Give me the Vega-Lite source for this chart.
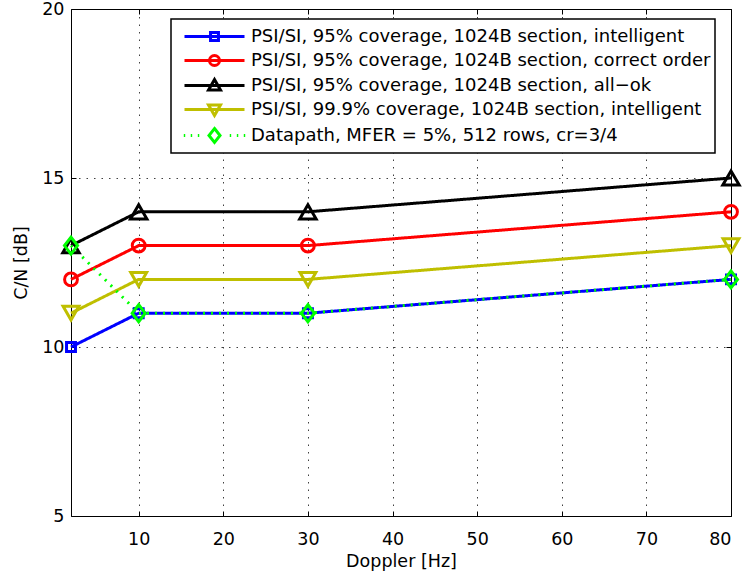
{
  "$schema": "https://vega.github.io/schema/vega-lite/v6.json",
  "width": 660,
  "height": 507,
  "autosize": "none",
  "padding": {"left": 71, "top": 9, "right": 12, "bottom": 59},
  "background": "white",
  "config": {
    "font": "DejaVu Sans",
    "view": {"stroke": "black", "strokeWidth": 1},
    "axis": {
      "labelFont": "DejaVu Sans",
      "titleFont": "DejaVu Sans",
      "labelFontSize": 17.5,
      "titleFontSize": 17.5,
      "titleFontWeight": "normal",
      "labelColor": "black",
      "titleColor": "black",
      "domain": false,
      "tickColor": "black",
      "tickWidth": 1,
      "gridColor": "black",
      "gridOpacity": 0.75,
      "gridDash": [1.5, 6],
      "gridWidth": 1
    }
  },
  "data": {
    "values": [
      {"series": "PSI/SI, 95% coverage, 1024B section, intelligent", "doppler": 2, "cn": 10},
      {"series": "PSI/SI, 95% coverage, 1024B section, intelligent", "doppler": 10, "cn": 11},
      {"series": "PSI/SI, 95% coverage, 1024B section, intelligent", "doppler": 30, "cn": 11},
      {"series": "PSI/SI, 95% coverage, 1024B section, intelligent", "doppler": 80, "cn": 12},
      {"series": "PSI/SI, 95% coverage, 1024B section, correct order", "doppler": 2, "cn": 12},
      {"series": "PSI/SI, 95% coverage, 1024B section, correct order", "doppler": 10, "cn": 13},
      {"series": "PSI/SI, 95% coverage, 1024B section, correct order", "doppler": 30, "cn": 13},
      {"series": "PSI/SI, 95% coverage, 1024B section, correct order", "doppler": 80, "cn": 14},
      {"series": "PSI/SI, 95% coverage, 1024B section, all−ok", "doppler": 2, "cn": 13},
      {"series": "PSI/SI, 95% coverage, 1024B section, all−ok", "doppler": 10, "cn": 14},
      {"series": "PSI/SI, 95% coverage, 1024B section, all−ok", "doppler": 30, "cn": 14},
      {"series": "PSI/SI, 95% coverage, 1024B section, all−ok", "doppler": 80, "cn": 15},
      {"series": "PSI/SI, 99.9% coverage, 1024B section, intelligent", "doppler": 2, "cn": 11},
      {"series": "PSI/SI, 99.9% coverage, 1024B section, intelligent", "doppler": 10, "cn": 12},
      {"series": "PSI/SI, 99.9% coverage, 1024B section, intelligent", "doppler": 30, "cn": 12},
      {"series": "PSI/SI, 99.9% coverage, 1024B section, intelligent", "doppler": 80, "cn": 13},
      {"series": "Datapath, MFER = 5%, 512 rows, cr=3/4", "doppler": 2, "cn": 13},
      {"series": "Datapath, MFER = 5%, 512 rows, cr=3/4", "doppler": 10, "cn": 11},
      {"series": "Datapath, MFER = 5%, 512 rows, cr=3/4", "doppler": 30, "cn": 11},
      {"series": "Datapath, MFER = 5%, 512 rows, cr=3/4", "doppler": 80, "cn": 12}
    ]
  },
  "resolve": {"axis": {"x": "independent", "y": "independent"}},
  "layer": [
    {
      "mark": {"type": "line", "strokeWidth": 3, "clip": false},
      "encoding": {
        "x": {
          "field": "doppler", "type": "quantitative",
          "scale": {"domain": [2, 80], "nice": false, "zero": false},
          "axis": {
            "orient": "bottom", "title": "Doppler [Hz]",
            "values": [10, 20, 30, 40, 50, 60, 70, 80],
            "grid": true, "ticks": true, "tickSize": -5,
            "labelPadding": 19, "titlePadding": 5
          }
        },
        "y": {
          "field": "cn", "type": "quantitative",
          "scale": {"domain": [5, 20], "nice": false, "zero": false},
          "axis": {
            "orient": "left", "title": "C/N [dB]",
            "values": [5, 10, 15, 20],
            "grid": true, "ticks": true, "tickSize": -5,
            "labelPadding": 12, "titlePadding": 11
          }
        },
        "color": {
          "field": "series", "type": "nominal", "title": null,
          "scale": {
            "domain": [
              "PSI/SI, 95% coverage, 1024B section, intelligent",
              "PSI/SI, 95% coverage, 1024B section, correct order",
              "PSI/SI, 95% coverage, 1024B section, all−ok",
              "PSI/SI, 99.9% coverage, 1024B section, intelligent",
              "Datapath, MFER = 5%, 512 rows, cr=3/4"
            ],
            "range": ["#0000ff", "#ff0000", "#000000", "#bfbf00", "#00ff00"]
          },
          "legend": {
            "orient": "none",
            "legendX": 100,
            "legendY": 10,
            "direction": "vertical",
            "labelFont": "DejaVu Sans",
            "labelFontSize": 18,
            "labelColor": "black",
            "labelLimit": 0,
            "strokeColor": "black",
            "fillColor": "white",
            "padding": 4,
            "rowPadding": 0,
            "symbolSize": 576,
            "symbolOffset": 26,
            "labelOffset": 23,
            "encode": {
              "legend": {
                "update": {"strokeWidth": {"value": 1.5}}
              },
              "symbols": {
                "update": {
                  "fill": {"value": "transparent"},
                  "stroke": {"scale": "color", "field": "value"},
                  "strokeWidth": {"value": 3},
                  "opacity": {"value": 1},
                  "size": {"value": 576},
                  "shape": {"signal": "datum.value === 'PSI/SI, 95% coverage, 1024B section, intelligent' ? 'M-2.5,0H2.5M-0.33,-0.33H0.33V0.33H-0.33Z' : datum.value === 'PSI/SI, 95% coverage, 1024B section, correct order' ? 'M-2.5,0H2.5M-0.42,0A0.42,0.42,0,1,1,0.42,0A0.42,0.42,0,1,1,-0.42,0Z' : datum.value === 'PSI/SI, 95% coverage, 1024B section, all−ok' ? 'M-2.5,0H2.5M0,-0.5L0.5,0.375L-0.5,0.375Z' : datum.value === 'PSI/SI, 99.9% coverage, 1024B section, intelligent' ? 'M-2.5,0H2.5M0,0.5L0.5,-0.375L-0.5,-0.375Z' : 'M-2.56,0H-2.44M-1.98,0H-1.86M-1.39,0H-1.27M1.27,0H1.39M1.86,0H1.98M2.44,0H2.56M0,-0.58L0.46,0L0,0.58L-0.46,0Z'"}
                }
              }
            }
          }
        },
        "strokeDash": {
          "field": "series", "type": "nominal",
          "scale": {
            "domain": [
              "Datapath, MFER = 5%, 512 rows, cr=3/4",
              "PSI/SI, 99.9% coverage, 1024B section, intelligent",
              "PSI/SI, 95% coverage, 1024B section, all−ok",
              "PSI/SI, 95% coverage, 1024B section, correct order",
              "PSI/SI, 95% coverage, 1024B section, intelligent"
            ],
            "range": [[2, 6], [1, 0], [1, 0], [1, 0], [1, 0]]
          },
          "legend": null
        }
      }
    },
    {
      "mark": {"type": "point", "filled": false, "strokeWidth": 3, "opacity": 1, "clip": false},
      "encoding": {
        "x": {
          "field": "doppler", "type": "quantitative",
          "axis": {
            "orient": "top", "title": null, "labels": false, "grid": false,
            "values": [10, 20, 30, 40, 50, 60, 70, 80],
            "ticks": true, "tickSize": -5
          }
        },
        "y": {
          "field": "cn", "type": "quantitative",
          "axis": {
            "orient": "right", "title": null, "labels": false, "grid": false,
            "values": [5, 10, 15, 20],
            "ticks": true, "tickSize": -5
          }
        },
        "color": {"field": "series", "type": "nominal", "title": null},
        "shape": {
          "field": "series", "type": "nominal", "title": null,
          "scale": {
            "domain": [
              "Datapath, MFER = 5%, 512 rows, cr=3/4",
              "PSI/SI, 99.9% coverage, 1024B section, intelligent",
              "PSI/SI, 95% coverage, 1024B section, all−ok",
              "PSI/SI, 95% coverage, 1024B section, correct order",
              "PSI/SI, 95% coverage, 1024B section, intelligent"
            ],
            "range": ["M0,-1.3L1,0L0,1.3L-1,0Z", "triangle-down", "triangle-up", "circle", "square"]
          },
          "legend": null
        },
        "size": {
          "field": "series", "type": "nominal",
          "scale": {
            "type": "ordinal",
            "domain": [
              "Datapath, MFER = 5%, 512 rows, cr=3/4",
              "PSI/SI, 99.9% coverage, 1024B section, intelligent",
              "PSI/SI, 95% coverage, 1024B section, all−ok",
              "PSI/SI, 95% coverage, 1024B section, correct order",
              "PSI/SI, 95% coverage, 1024B section, intelligent"
            ],
            "range": [170, 250, 270, 165, 80]
          },
          "legend": null
        }
      }
    }
  ]
}
